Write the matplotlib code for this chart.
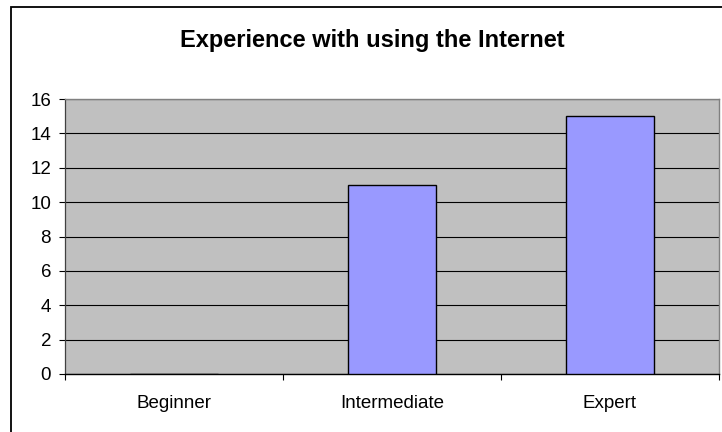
import matplotlib
matplotlib.use('Agg')
import matplotlib.pyplot as plt
from matplotlib.patches import Rectangle
import numpy as np

# survey answers: how experienced respondents are with the internet
levels = ['Beginner', 'Intermediate', 'Expert']
counts = [0, 11, 15]
y_ticks = [0, 2, 4, 6, 8, 10, 12, 14, 16]

plt.rcParams['font.family'] = ['Liberation Sans', 'DejaVu Sans']

fig = plt.figure(figsize=(7.22, 4.32), dpi=100)
ax = fig.add_axes([65 / 722, 58 / 432, 654 / 722, 275 / 432])

# chart border, runs off the right and bottom edges
fig.patches.append(Rectangle((11 / 722, -0.2), 1.2, 1.2 - 7 / 432,
                             transform=fig.transFigure, fill=False,
                             edgecolor='black', linewidth=1.3))

x = np.arange(len(levels))
ax.set_facecolor('#C0C0C0')
ax.bar(x, counts, width=0.4, color='#9999FF', edgecolor='black',
       linewidth=1.0, zorder=3)

ax.set_xlim(-0.5, len(levels) - 0.5)
ax.set_ylim(0, 16)
ax.set_yticks(y_ticks)
ax.yaxis.grid(True, color='black', linewidth=0.8, zorder=1)
ax.set_axisbelow(True)

# category boundaries carry the ticks, names sit between them
ax.set_xticks(np.arange(-0.5, len(levels), 1.0))
ax.set_xticklabels([])
ax.set_xticks(x, minor=True)
ax.set_xticklabels(levels, minor=True)
ax.tick_params(axis='x', which='major', direction='out', length=4.5,
               width=0.8, color='black')
ax.tick_params(axis='x', which='minor', length=0, pad=15, labelsize=13.5)
ax.tick_params(axis='y', direction='out', length=4.5, width=0.8,
               pad=5.5, labelsize=13.5)

for side in ('top', 'right'):
    ax.spines[side].set_color('#808080')
    ax.spines[side].set_linewidth(1.0)
ax.spines['left'].set_color('#404040')
ax.spines['left'].set_linewidth(0.9)
ax.spines['bottom'].set_color('black')
ax.spines['bottom'].set_linewidth(1.0)

fig.text(372 / 722, 1 - 40 / 432, 'Experience with using the Internet',
         ha='center', va='center', fontsize=17, fontweight='bold')

fig.savefig('out.png', dpi=100)
